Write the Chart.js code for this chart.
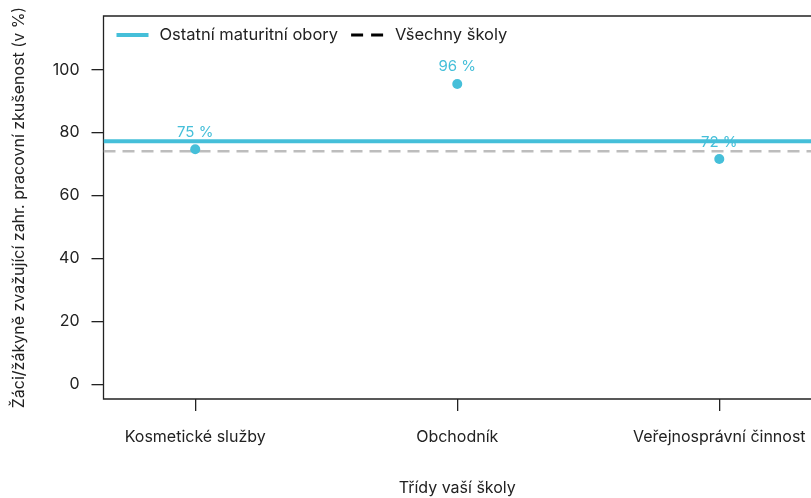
<!DOCTYPE html>
<html>
<head>
<meta charset="utf-8">
<script src="https://cdn.jsdelivr.net/npm/chart.js@4"></script>
<style>
	html, body { margin: 0; padding: 0; background: #fff; }
	canvas { display: block; }
</style>
</head>
<body>
<canvas id="chart" width="811" height="498"></canvas>
<script>
const categories = ['Kosmetické služby', 'Obchodník', 'Veřejnosprávní činnost'];
const classValues = [74.7, 95.5, 71.6];
const otherFieldsValue = 77.3;
const allSchoolsValue = 74.1;
const yTicks = [0, 20, 40, 60, 80, 100];
const seriesNames = ['Ostatní maturitní obory', 'Všechny školy'];

const teal = '#45BFD9';
const grey = '#BDBDBD';
const ink = '#222222';
const FONT = 'Inter, "Noto Sans", sans-serif';
const xMin = 0.65;
const xMax = 3.35;

// frame on left, top and bottom (R style box, right side cut off)
const framePlugin = {
	id: 'frame',
	beforeDatasetsDraw(chart) {
		const { ctx, chartArea: a } = chart;
		ctx.save();
		ctx.strokeStyle = ink;
		ctx.lineWidth = 1.3;
		ctx.beginPath();
		ctx.moveTo(a.right + 2, a.top);
		ctx.lineTo(a.left, a.top);
		ctx.lineTo(a.left, a.bottom);
		ctx.lineTo(a.right + 2, a.bottom);
		ctx.stroke();
		ctx.restore();
	},
};

const labelPlugin = {
	id: 'pointLabels',
	afterDatasetsDraw(chart) {
		const { ctx } = chart;
		const meta = chart.getDatasetMeta(0);
		ctx.save();
		ctx.fillStyle = teal;
		ctx.font = '15px ' + FONT;
		ctx.textAlign = 'center';
		ctx.textBaseline = 'middle';
		meta.data.forEach((pt, i) => {
			ctx.fillText(Math.round(classValues[i]) + ' %', pt.x, pt.y - 17);
		});
		ctx.restore();
	},
};

const legendPlugin = {
	id: 'innerLegend',
	afterDraw(chart) {
		const { ctx, chartArea: a } = chart;
		const y = a.top + 19;
		let x = a.left + 13;
		ctx.save();
		ctx.font = '16.5px ' + FONT;
		ctx.textBaseline = 'middle';
		ctx.fillStyle = ink;

		ctx.strokeStyle = teal;
		ctx.lineWidth = 4;
		ctx.beginPath();
		ctx.moveTo(x, y);
		ctx.lineTo(x + 32, y);
		ctx.stroke();
		x += 43;
		ctx.fillText(seriesNames[0], x, y);
		x += ctx.measureText(seriesNames[0]).width + 13;

		ctx.strokeStyle = '#000';
		ctx.lineWidth = 3;
		ctx.setLineDash([12, 8]);
		ctx.beginPath();
		ctx.moveTo(x, y);
		ctx.lineTo(x + 32, y);
		ctx.stroke();
		ctx.setLineDash([]);
		x += 44;
		ctx.fillText(seriesNames[1], x, y);
		ctx.restore();
	},
};

new Chart(document.getElementById('chart'), {
	type: 'scatter',
	data: {
		datasets: [
			{
				label: 'Třídy',
				data: classValues.map((v, i) => ({ x: i + 1, y: v })),
				backgroundColor: teal,
				borderColor: teal,
				pointRadius: 5,
				pointBorderWidth: 0,
			},
			{
				label: seriesNames[0],
				type: 'line',
				data: [{ x: xMin, y: otherFieldsValue }, { x: xMax, y: otherFieldsValue }],
				borderColor: teal,
				borderWidth: 4,
				pointRadius: 0,
			},
			{
				label: seriesNames[1],
				type: 'line',
				data: [{ x: xMin, y: allSchoolsValue }, { x: xMax, y: allSchoolsValue }],
				borderColor: grey,
				borderWidth: 2.5,
				borderDash: [12, 7],
				pointRadius: 0,
			},
		],
	},
	options: {
		responsive: false,
		animation: false,
		layout: { autoPadding: false, padding: { top: 16, right: 0, left: 0, bottom: 0 } },
		plugins: {
			legend: { display: false },
			tooltip: { enabled: false },
		},
		scales: {
			x: {
				type: 'linear',
				min: xMin,
				max: xMax,
				afterBuildTicks: (axis) => {
					axis.ticks = categories.map((c, i) => ({ value: i + 1 }));
				},
				afterFit: (axis) => {
					axis.height = 99;
					axis.paddingLeft = 0;
					axis.paddingRight = 0;
				},
				border: { display: false },
				grid: {
					drawOnChartArea: false,
					drawTicks: true,
					tickLength: 12,
					color: ink,
					lineWidth: 1.3,
				},
				ticks: {
					autoSkip: false,
					maxRotation: 0,
					padding: 17,
					color: ink,
					font: { family: FONT, size: 16 },
					callback: (v) => categories[Math.round(v) - 1],
				},
				title: {
					display: true,
					text: 'Třídy vaší školy',
					color: ink,
					font: { family: FONT, size: 16 },
					padding: { top: 22, bottom: 0 },
				},
			},
			y: {
				min: -4.7,
				max: 117.1,
				afterBuildTicks: (axis) => {
					axis.ticks = yTicks.map((v) => ({ value: v }));
				},
				afterFit: (axis) => {
					axis.width = 103.5;
					axis.paddingTop = 0;
					axis.paddingBottom = 0;
				},
				border: { display: false },
				grid: {
					drawOnChartArea: false,
					drawTicks: true,
					tickLength: 12,
					color: ink,
					lineWidth: 1.3,
				},
				ticks: {
					padding: 12,
					color: ink,
					font: { family: FONT, size: 16 },
				},
				title: {
					display: true,
					text: 'Žáci/žákyně zvažující zahr. pracovní zkušenost (v %)',
					color: ink,
					font: { family: FONT, size: 16 },
					padding: { top: 10, bottom: 0 },
				},
			},
		},
	},
	plugins: [framePlugin, labelPlugin, legendPlugin],
});
</script>
</body>
</html>
